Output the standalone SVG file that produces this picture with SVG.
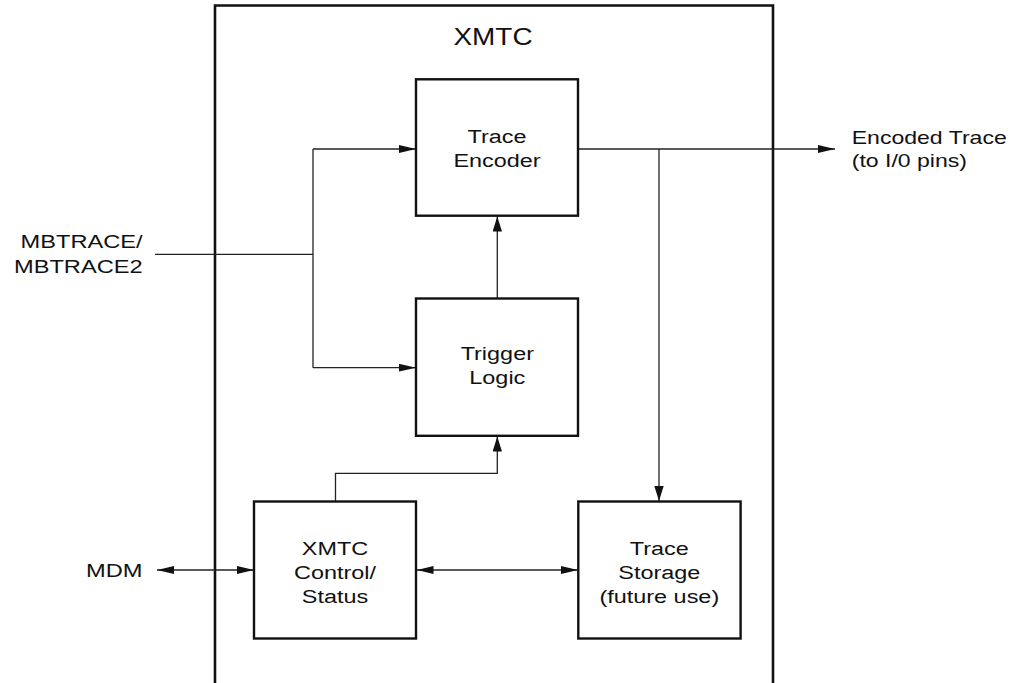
<svg xmlns="http://www.w3.org/2000/svg" width="1016" height="683" viewBox="0 0 1016 683">
  <style>
    .box { fill: #fff; stroke: #111; stroke-width: 2.4; }
    .frame { fill: none; stroke: #111; stroke-width: 2.6; }
    .wire { fill: none; stroke: #222; stroke-width: 1.3; }
    .lbl { font-family: "Liberation Sans", Arial, Helvetica, sans-serif; font-size: 18.6px; fill: #111; }
    .title { font-family: "Liberation Sans", Arial, Helvetica, sans-serif; font-size: 24.5px; fill: #111; }
  </style>
  <defs>
    <marker id="ah" markerUnits="userSpaceOnUse" markerWidth="17" markerHeight="8" refX="17" refY="3.9" orient="auto-start-reverse">
      <path d="M0,0 L17,3.9 L0,7.8 z" fill="#111"/>
    </marker>
    <marker id="av" markerUnits="userSpaceOnUse" markerWidth="15" markerHeight="10" refX="15" refY="4.7" orient="auto">
      <path d="M0,0 L15,4.7 L0,9.4 z" fill="#111"/>
    </marker>
  </defs>
  <rect width="1016" height="683" fill="#fff"/>

  <g id="xmtc-frame">
    <path class="frame" d="M215,690 V5.5 H773 V690"/>
    <text class="title" text-anchor="middle" transform="translate(493,44.5) scale(1.14,1)">XMTC</text>
  </g>

  <g id="connectors">
    <path class="wire" d="M155,254.3 H313"/>
    <path class="wire" d="M313,149 V367.7"/>
    <path class="wire" d="M313,149 H416" marker-end="url(#ah)"/>
    <path class="wire" d="M313,367.7 H416" marker-end="url(#ah)"/>
    <path class="wire" d="M497.3,298.5 V216.5" marker-end="url(#av)"/>
    <path class="wire" d="M335.5,501 V473.3 H497.3 V436.5" marker-end="url(#av)"/>
    <path class="wire" d="M578,149 H835" marker-end="url(#ah)"/>
    <path class="wire" d="M659,149 V501" marker-end="url(#av)"/>
    <path class="wire" d="M157,570 H254" marker-start="url(#ah)" marker-end="url(#ah)"/>
    <path class="wire" d="M416.5,570 H578" marker-start="url(#ah)" marker-end="url(#ah)"/>
  </g>

  <g id="trace-encoder">
    <rect class="box" x="416" y="79.3" width="162" height="136.4"/>
    <text class="lbl" text-anchor="middle" transform="translate(497,143.3) scale(1.26,1)"><tspan x="0" y="0">Trace</tspan><tspan x="0" y="23.4">Encoder</tspan></text>
  </g>

  <g id="trigger-logic">
    <rect class="box" x="416" y="298.5" width="162" height="137.3"/>
    <text class="lbl" text-anchor="middle" transform="translate(497.3,360) scale(1.26,1)"><tspan x="0" y="0">Trigger</tspan><tspan x="0" y="24">Logic</tspan></text>
  </g>

  <g id="xmtc-control">
    <rect class="box" x="254" y="501.5" width="162" height="137"/>
    <text class="lbl" text-anchor="middle" transform="translate(335,555) scale(1.26,1)"><tspan x="0" y="0">XMTC</tspan><tspan x="0" y="24.2">Control/</tspan><tspan x="0" y="48.3">Status</tspan></text>
  </g>

  <g id="trace-storage">
    <rect class="box" x="578.3" y="501.5" width="162.3" height="137"/>
    <text class="lbl" text-anchor="middle" transform="translate(659.3,555) scale(1.26,1)"><tspan x="0" y="0">Trace</tspan><tspan x="0" y="24.2">Storage</tspan><tspan x="0" y="48.3">(future use)</tspan></text>
  </g>

  <g id="mbtrace">
    <text class="lbl" text-anchor="end" transform="translate(142.6,248.3) scale(1.27,1)"><tspan x="0" y="0">MBTRACE/</tspan><tspan x="0" y="24.4">MBTRACE2</tspan></text>
  </g>

  <g id="mdm">
    <text class="lbl" text-anchor="end" transform="translate(142.4,577) scale(1.27,1)">MDM</text>
  </g>

  <g id="encoded-trace">
    <text class="lbl" transform="translate(851.7,144) scale(1.24,1)"><tspan x="0" y="0">Encoded Trace</tspan><tspan x="0" y="23">(to I/0 pins)</tspan></text>
  </g>
</svg>
